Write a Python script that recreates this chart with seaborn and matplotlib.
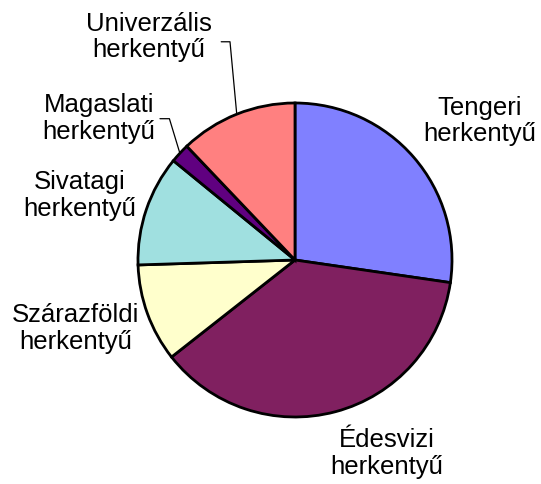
import numpy as np
import matplotlib
matplotlib.use("Agg")
import matplotlib.pyplot as plt
import seaborn as sns

# adatok (leolvasva a kepbol)
kategoriak = ["Tengeri\nherkentyű", "Édesvizi\nherkentyű", "Szárazföldi\nherkentyű",
              "Sivatagi\nherkentyű", "Magaslati\nherkentyű", "Univerzális\nherkentyű"]
ertekek = [27.3, 37.1, 10.1, 11.4, 2.0, 12.1]
szinek = ["#8080FF", "#802060", "#FFFFCC", "#A0E0E0", "#600080", "#FF8080"]

sns.set_style("white")
plt.rcParams['font.family'] = ['Liberation Sans', 'DejaVu Sans']

fig = plt.figure(figsize=(5.41, 4.84), dpi=100)
# kor kozeppontja (295, 260) px, sugar 157 px
cx, cy, r = 295, 260, 157
W, H = 541, 484
ax = fig.add_axes([(cx - r) / W, 1 - (cy + r) / H, 2 * r / W, 2 * r / H])

wedges, _ = ax.pie(ertekek, colors=szinek, startangle=90, counterclock=False,
                   radius=1, wedgeprops=dict(edgecolor="black", linewidth=2))
ax.set_xlim(-1, 1)
ax.set_ylim(-1, 1)
ax.set_aspect("equal")
ax.axis("off")

# cimke helyek (adat koordinatak)
cimke_pos = [(1.175, 0.885), (0.585, -1.235), (-1.40, -0.435),
             (-1.37, 0.41), (-1.25, 0.90), (-0.93, 1.42)]
for lab, (x, y) in zip(kategoriak, cimke_pos):
    ax.text(x, y, lab, ha="center", va="center", fontsize=18.5, color="black",
            linespacing=1.15, clip_on=False)

# vezeto vonalak a kis szeletekhez
for i, (knee, end) in {4: ((-0.80, 0.90), (-0.86, 0.90)),
                       5: ((-0.414, 1.39), (-0.47, 1.39))}.items():
    w = wedges[i]
    mid = np.deg2rad((w.theta1 + w.theta2) / 2)
    px, py = np.cos(mid), np.sin(mid)
    ax.plot([px, knee[0], end[0]], [py, knee[1], end[1]], color="black",
            linewidth=0.9, clip_on=False)

plt.savefig("out.png", dpi=100)
plt.close()
